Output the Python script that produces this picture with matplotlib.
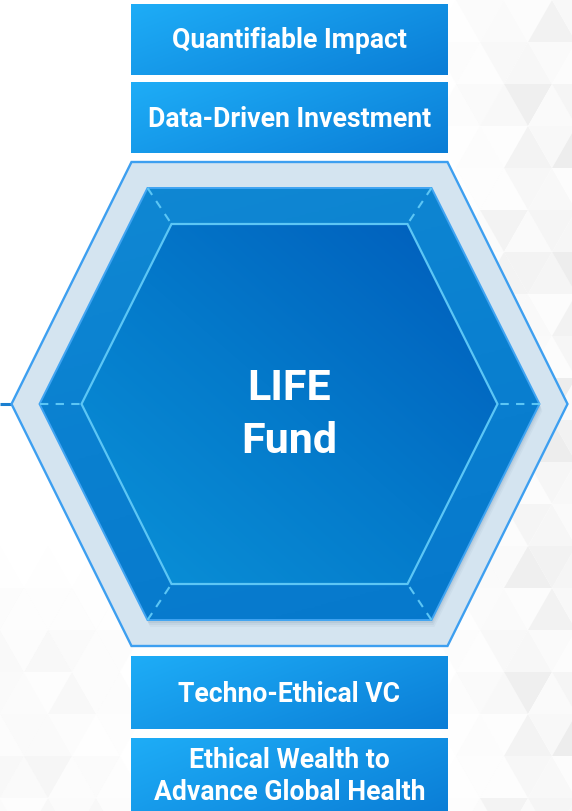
import numpy as np
import matplotlib
matplotlib.use("Agg")
import matplotlib.pyplot as plt
from matplotlib.patches import Polygon, Rectangle
from matplotlib.colors import LinearSegmentedColormap

plt.rcParams['font.family'] = ['Roboto', 'DejaVu Sans']

# ---- content ----
center_lines = ["LIFE", "Fund"]
top_labels = [["Quantifiable Impact"], ["Data-Driven Investment"]]
bottom_labels = [["Techno-Ethical VC"], ["Ethical Wealth to", "Advance Global Health"]]

# ---- layout (pixel space) ----
W, H = 572, 811
cx, cy = 289.5, 404
outer = dict(hw=158, hh=242, ext=120)
bevel = dict(hw=142, hh=216, ext=108)
inner = dict(hw=118, hh=180, ext=90)
box_x = (131, 448)
top_boxes_y = [(4, 75), (82, 153)]
bottom_boxes_y = [(656, 729), (738, 815)]
top_baselines = [[48], [127]]
bottom_baselines = [[702], [768, 800]]
center_baselines = [400, 453]

fig = plt.figure(figsize=(W / 100, H / 100), dpi=100)
ax = fig.add_axes([0, 0, 1, 1])
ax.set_xlim(0, W)
ax.set_ylim(H, 0)
ax.axis('off')
fig.patch.set_facecolor('white')


def hexverts(hw, hh, ext, dx=0, dy=0):
    return np.array([
        (cx - hw - ext + dx, cy + dy),
        (cx - hw + dx, cy - hh + dy),
        (cx + hw + dx, cy - hh + dy),
        (cx + hw + ext + dx, cy + dy),
        (cx + hw + dx, cy + hh + dy),
        (cx - hw + dx, cy + hh + dy),
    ])


def gradient_fill(ax, patch, colors, extent, z, wx=1.0, wy=1.0):
    """extent = [x0, x1, ytop, ybottom]; gradient grows rightward (wx) and downward (wy>0) or upward (wy<0)."""
    ax.add_patch(patch)
    n = 256
    X, Y = np.meshgrid(np.linspace(0, 1, n), np.linspace(0, 1, n))  # Y=0 is top row
    Yd = Y if wy >= 0 else 1 - Y
    G = (X * abs(wx) + Yd * abs(wy)) / (abs(wx) + abs(wy))
    cmap = LinearSegmentedColormap.from_list('g', colors)
    x0, x1, yt, yb = extent
    im = ax.imshow(G, cmap=cmap, extent=[x0, x1, yb, yt], origin='upper', zorder=z,
                   interpolation='bilinear', aspect='auto', vmin=0, vmax=1)
    im.set_clip_path(patch)
    return im


# ---- faint isometric background pattern ----
row_h = 42.0
tri_w = 48.0
shades = ['#fafafa', '#f1f1f1', '#f6f6f6', '#ececec', '#fcfcfc', '#f4f4f4', '#f8f8f8']
for r in range(-1, int(H / row_h) + 2):
    y0 = r * row_h
    y1 = y0 + row_h
    off = (r % 2) * tri_w / 2
    for c in range(-1, int(W / tri_w) + 3):
        xa = c * tri_w + off
        for k, pts in enumerate([
            [(xa, y1), (xa + tri_w / 2, y0), (xa + tri_w, y1)],
            [(xa + tri_w / 2, y0), (xa + tri_w * 1.5, y0), (xa + tri_w, y1)],
        ]):
            mx = np.mean([p[0] for p in pts])
            my = np.mean([p[1] for p in pts])
            a_right = np.clip((mx - 445) / 90, 0, 1) * 0.9
            a_left = np.clip((my - 560) / 120, 0, 1) * np.clip((140 - mx) / 60, 0, 1) * 0.45
            a = max(a_right, a_left)
            if a <= 0:
                continue
            col = shades[(r * 3 + c * 2 + k * 5) % len(shades)]
            ax.add_patch(Polygon(pts, closed=True, facecolor=col, edgecolor='none',
                                 alpha=a, zorder=0))

# connector line on the left
ax.plot([0, cx - outer['hw'] - outer['ext']], [cy, cy], color='#1a7fd0', lw=2.2, zorder=1,
        solid_capstyle='butt')

# ---- outer ring ----
ov = hexverts(**outer)
ax.add_patch(Polygon(ov, closed=True, facecolor='#d4e4f0', edgecolor='#3d9ff0',
                     lw=1.7, zorder=2))

# soft shadow of bevel
for d, a in [(7, 0.10), (5, 0.14), (3, 0.2)]:
    ax.add_patch(Polygon(hexverts(**bevel, dx=d * 0.4, dy=d), closed=True,
                         facecolor='#8aa3b8', edgecolor='none', zorder=3, alpha=a))

# ---- bevel hexagon ----
bv = hexverts(**bevel)
bpatch = Polygon(bv, closed=True, facecolor='none', edgecolor='none')
gradient_fill(ax, bpatch, ['#1088d3', '#0a80d0', '#0678cc'],
              [bv[:, 0].min(), bv[:, 0].max(), bv[:, 1].min(), bv[:, 1].max()], 4,
              wx=0.3, wy=1)
ax.add_patch(Polygon(bv, closed=True, facecolor='none', edgecolor='#40a4f2', lw=1.4, zorder=5))

# ---- inner hexagon ----
iv = hexverts(**inner)
ipatch = Polygon(iv, closed=True, facecolor='none', edgecolor='none')
gradient_fill(ax, ipatch, ['#0a92d8', '#0479ca', '#005cbb'],
              [iv[:, 0].min(), iv[:, 0].max(), iv[:, 1].min(), iv[:, 1].max()], 6,
              wx=1, wy=-1)
ax.add_patch(Polygon(iv, closed=True, facecolor='none', edgecolor='#5cc6f5', lw=1.6, zorder=7))

# dashed connectors between bevel and inner vertices
for (x0, y0), (x1, y1) in zip(bv, iv):
    ax.plot([x0, x1], [y0, y1], color='#5cc6f5', lw=1.5, ls=(0, (4, 3.5)), zorder=7)

# center label
for line, yb in zip(center_lines, center_baselines):
    ax.text(cx, yb, line, ha='center', va='baseline', color='white',
            fontsize=31, fontweight='bold', zorder=8)


# ---- label boxes ----
def draw_box(y0, y1, lines, baselines):
    rect = Rectangle((box_x[0], y0), box_x[1] - box_x[0], y1 - y0,
                     facecolor='none', edgecolor='none')
    gradient_fill(ax, rect, ['#1eadf7', '#0a7dd6'],
                  [box_x[0], box_x[1], y0, y1], 9, wx=1, wy=0.6)
    for line, yb in zip(lines, baselines):
        ax.text((box_x[0] + box_x[1]) / 2, yb, line, ha='center', va='baseline',
                color='white', fontsize=19.2, fontweight='bold', zorder=10)


for (y0, y1), lab, bl in zip(top_boxes_y, top_labels, top_baselines):
    draw_box(y0, y1, lab, bl)
for (y0, y1), lab, bl in zip(bottom_boxes_y, bottom_labels, bottom_baselines):
    draw_box(y0, y1, lab, bl)

fig.savefig('out.png', dpi=100, facecolor='white')
